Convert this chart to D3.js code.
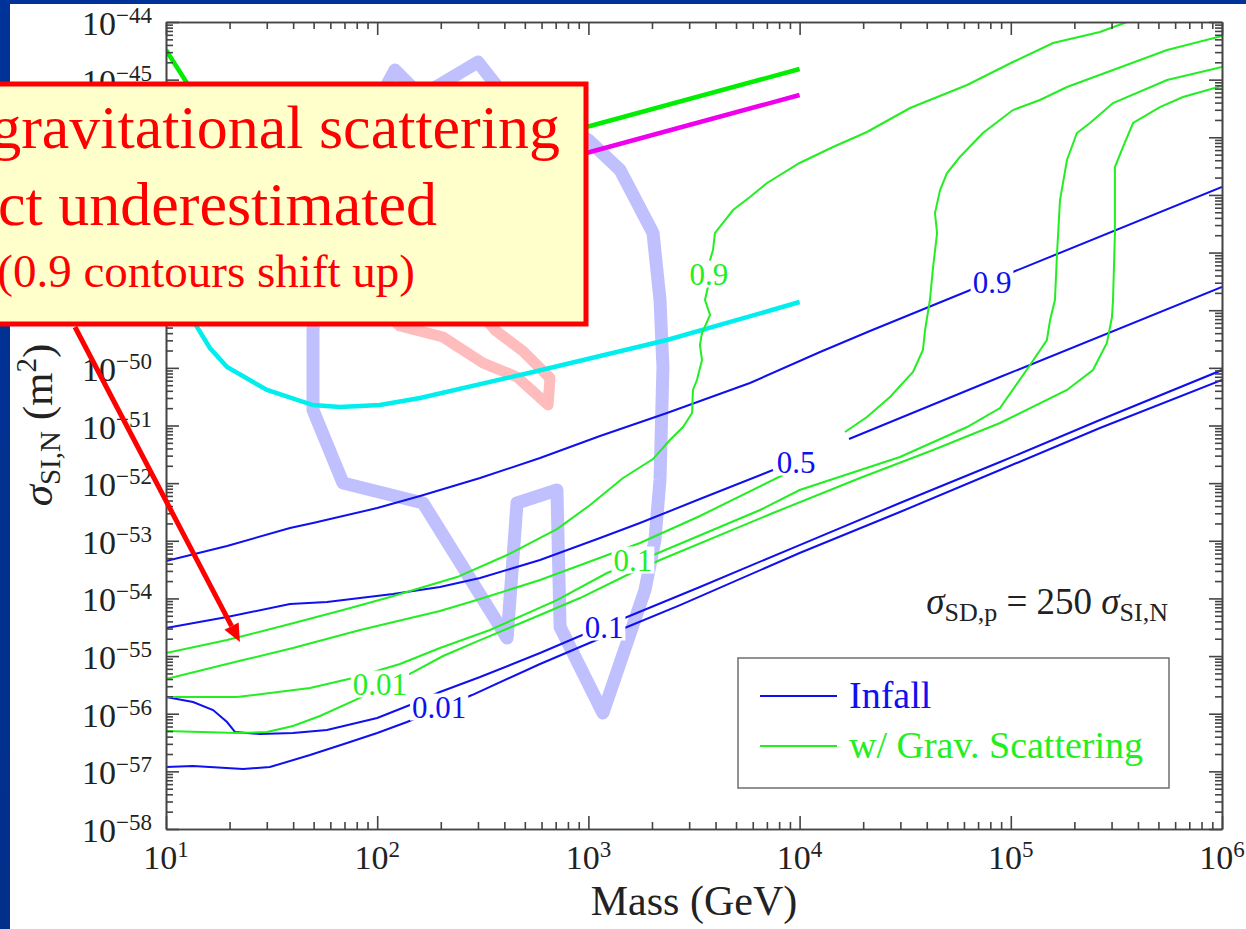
<!DOCTYPE html>
<html><head><meta charset="utf-8">
<script src="https://cdn.jsdelivr.net/npm/d3@7"></script>
<style>
html,body{margin:0;padding:0;background:#fff;overflow:hidden;}
svg{display:block;}
text{font-family:"Liberation Serif","Times New Roman",serif;}
</style></head><body>
<svg id="chart" width="1246" height="929"></svg>
<script>
// ---- values: [log10(Mass/GeV), log10(sigma/m^2)] ----
const massExponents  = [1, 2, 3, 4, 5, 6];
const sigmaExponents = [-44,-45,-46,-47,-48,-49,-50,-51,-52,-53,-54,-55,-56,-57,-58];

// Infall contours (blue)
const infall09 = [[1.000,-53.351],[1.289,-53.091],[1.587,-52.779],[1.696,-52.692],[2.000,-52.432],[2.203,-52.224],[2.487,-51.911],[2.771,-51.564],[3.055,-51.183],[3.372,-50.783],[3.765,-50.263],[4.097,-49.725],[4.333,-49.361],[4.797,-48.667],[5.010,-48.337],[6.000,-46.863]];
const infall05 = [[1.000,-54.514],[1.289,-54.323],[1.587,-54.097],[1.762,-54.062],[2.075,-53.924],[2.297,-53.802],[2.487,-53.646],[2.771,-53.334],[3.055,-52.952],[3.244,-52.692],[3.528,-52.276],[3.874,-51.772],null,[4.234,-51.235],[4.949,-50.159],[6.000,-48.598]];
const infall01 = [[1.000,-55.711],[1.128,-55.797],[1.223,-55.936],[1.289,-56.144],[1.327,-56.318],[1.445,-56.353],[1.601,-56.335],[1.762,-56.283],[2.000,-56.075],[2.155,-55.849],[2.297,-55.624],[2.487,-55.364],[2.771,-54.947],[2.960,-54.652],[3.183,-54.323],[3.528,-53.802],[4.000,-53.074],[4.475,-52.345],[4.949,-51.634],[5.422,-50.905],[6.000,-50.038]];
const infall001 = [[1.000,-56.925],[1.128,-56.908],[1.365,-56.960],[1.492,-56.925],[1.682,-56.717],[1.857,-56.509],[2.000,-56.335],[2.141,-56.144],[2.449,-55.676],[2.771,-55.138],[2.960,-54.843],[3.183,-54.496],[3.434,-54.115],[4.000,-53.212],[4.475,-52.501],[4.949,-51.772],[5.422,-51.044],[6.000,-50.211]];

// With gravitational scattering contours (green)
const scatter09 = [[1.000,-54.947],[1.289,-54.722],[1.587,-54.444],[1.838,-54.201],[2.061,-53.976],[2.378,-53.629],[2.615,-53.247],[2.851,-52.796],[3.008,-52.380],[3.164,-51.911],[3.306,-51.582],[3.386,-51.252],[3.448,-51.026],[3.491,-50.783],[3.495,-50.384],[3.514,-50.211],[3.538,-49.864],[3.528,-49.604],[3.538,-49.396],[3.576,-49.083],[3.552,-48.823],[3.566,-48.598],[3.576,-48.129],[3.590,-47.956],[3.599,-47.661],[3.685,-47.262],[3.765,-47.036],[3.846,-46.793],[4.000,-46.446],[4.158,-46.169],[4.319,-45.908],[4.523,-45.492],[4.793,-45.093],[5.010,-44.694],[5.200,-44.364],[5.422,-44.173],[5.550,-44.000]];
const scatter05 = [[1.000,-55.398],[1.365,-55.069],[1.601,-54.861],[1.919,-54.548],[2.297,-54.219],[2.487,-54.010],[2.771,-53.681],[3.244,-53.039],[3.528,-52.570],[3.921,-51.859],null,[4.215,-51.113],[4.319,-50.853],[4.428,-50.506],[4.537,-50.072],[4.584,-49.690],[4.594,-49.344],[4.617,-48.823],[4.632,-48.251],[4.651,-47.661],[4.641,-47.314],[4.665,-46.915],[4.698,-46.620],[4.759,-46.342],[4.868,-45.926],[5.010,-45.527],[5.138,-45.353],[5.266,-45.128],[5.484,-44.833],[5.740,-44.486],[6.000,-44.243]];
const scatter01 = [[1.000,-55.711],[1.336,-55.711],[1.682,-55.554],[1.885,-55.381],[2.108,-55.138],[2.297,-54.861],[2.534,-54.548],[2.851,-54.028],[3.088,-53.559],[3.330,-53.212],[3.813,-52.466],[4.000,-52.119],[4.475,-51.547],[4.793,-51.026],[4.949,-50.697],[5.091,-49.951],[5.171,-49.517],[5.186,-49.170],[5.209,-48.823],[5.219,-48.008],[5.233,-47.088],[5.266,-46.394],[5.313,-45.926],[5.375,-45.752],[5.484,-45.405],[5.740,-45.006],[6.000,-44.781]];
const scatter001 = [[1.000,-56.301],[1.336,-56.335],[1.478,-56.318],[1.601,-56.214],[1.729,-56.040],[1.895,-55.763],[2.037,-55.520],[2.170,-55.277],[2.312,-54.999],[2.487,-54.722],[2.771,-54.288],[2.960,-53.993],[3.183,-53.594],[3.339,-53.334],[3.874,-52.518],[4.286,-51.911],[4.632,-51.425],[4.949,-50.957],[5.266,-50.384],[5.389,-50.038],[5.455,-49.569],[5.479,-49.118],[5.484,-48.823],[5.493,-47.661],[5.493,-46.516],[5.531,-46.169],[5.579,-45.752],[5.706,-45.475],[5.815,-45.301],[6.000,-45.110]];

// contour labels: [text, log10 mass, log10 sigma]
const infallLabels  = [["0.9",4.911,-48.511],["0.5",3.983,-51.634],["0.1",3.074,-54.496],["0.01",2.293,-55.884]];
const scatterLabels = [["0.9",3.571,-48.372],["0.1",3.211,-53.334],["0.01",2.013,-55.485]];

// other experimental limits / regions
const limitGreen   = [[1.000,-44.486],[1.066,-44.867],[1.114,-45.145],[1.256,-45.874],[1.634,-46.741],[2.345,-46.481],[2.899,-45.908],[3.008,-45.804],[4.000,-44.815]];
const limitMagenta = [[2.899,-46.359],[3.008,-46.255],[4.000,-45.266]];
const limitCyan    = [[1.043,-48.476],[1.114,-49.135],[1.147,-49.291],[1.208,-49.656],[1.289,-49.985],[1.478,-50.384],[1.696,-50.645],[1.824,-50.679],[2.013,-50.645],[2.203,-50.523],[2.738,-50.072],[3.372,-49.517],[4.000,-48.858]];
const regionBlue   = [[1.696,-50.731],[1.696,-49.344],[1.753,-47.088],[2.084,-44.833],[2.206,-45.285],[2.477,-44.694],[2.581,-45.180],[2.866,-45.787],[3.000,-46.047],[3.150,-46.568],[3.306,-47.661],[3.339,-48.823],[3.353,-49.985],[3.339,-51.946],[3.315,-52.987],[3.268,-53.854],[3.069,-55.988],[2.866,-54.496],[2.851,-52.119],[2.662,-52.345],[2.615,-54.687],[2.217,-52.345],[1.838,-51.998]];
const regionRed    = [[1.966,-48.823],[2.108,-49.274],[2.312,-49.465],[2.501,-49.916],[2.662,-50.159],[2.809,-50.645],[2.818,-50.176],[2.690,-49.708],[2.558,-49.344],[2.439,-48.823]];

// annotation arrow (data coordinates): from -> to
const arrowFrom = [0.569,-49.291];
const arrowTo   = [1.350,-54.757];

// ---- drawing ----
const svg = d3.select("#chart");
const W = 1246, H = 929;
const plot = {x0:166, x1:1222, y0:22, y1:829};
const x = d3.scaleLog().domain([1e1,1e6]).range([plot.x0, plot.x1]);
const y = d3.scaleLog().domain([1e-58,1e-44]).range([plot.y1, plot.y0]);
const px = d => x(Math.pow(10,d[0]));
const py = d => y(Math.pow(10,d[1]));

const BLUE = "#1010ee", GREEN = "#22ee22";

svg.append("rect").attr("width",W).attr("height",H).attr("fill","#fff");
const defs = svg.append("defs");
const grad = defs.append("linearGradient").attr("id","side").attr("x1",0).attr("y1",0).attr("x2",0).attr("y2",1);
grad.append("stop").attr("offset",0).attr("stop-color","#003399");
grad.append("stop").attr("offset",1).attr("stop-color","#00308a");
svg.append("rect").attr("x",0).attr("y",0).attr("width",W).attr("height",4).attr("fill","#003399");
svg.append("rect").attr("x",0).attr("y",0).attr("width",10).attr("height",H).attr("fill","url(#side)");

defs.append("clipPath").attr("id","plotclip").append("rect")
  .attr("x",plot.x0).attr("y",plot.y0).attr("width",plot.x1-plot.x0).attr("height",plot.y1-plot.y0);

const gData = svg.append("g").attr("clip-path","url(#plotclip)");
const line = d3.line().defined(d=>d!=null).x(px).y(py);
const closed = d3.line().x(px).y(py).curve(d3.curveLinearClosed);

gData.append("path").attr("d",closed(regionBlue)).attr("fill","none").attr("stroke","#c0c0ff")
  .attr("stroke-width",13).attr("stroke-linejoin","round");
gData.append("path").attr("d",closed(regionRed)).attr("fill","none").attr("stroke","#ffbcbc")
  .attr("stroke-width",11).attr("stroke-linejoin","round");

[[limitCyan,"#00eeee"],[limitGreen,"#00ee00"],[limitMagenta,"#ee00ee"]].forEach(([d,c])=>{
  gData.append("path").attr("d",line(d)).attr("fill","none").attr("stroke",c).attr("stroke-width",4.5);
});

[infall09,infall05,infall01,infall001].forEach(d=>{
  gData.append("path").attr("d",line(d)).attr("fill","none").attr("stroke",BLUE).attr("stroke-width",2);
});
[scatter09,scatter05,scatter01,scatter001].forEach(d=>{
  gData.append("path").attr("d",line(d)).attr("fill","none").attr("stroke",GREEN).attr("stroke-width",2);
});

function contourLabel(lbl,color){
  const g = gData.append("g");
  const t = g.append("text").attr("x",px([lbl[1],lbl[2]])).attr("y",py([lbl[1],lbl[2]]))
    .attr("text-anchor","middle").attr("dominant-baseline","central")
    .attr("font-size",31).attr("fill",color).text(lbl[0]);
  const b = t.node().getBBox();
  g.insert("rect","text").attr("x",b.x-2).attr("y",b.y+4).attr("width",b.width+4).attr("height",b.height-8).attr("fill","#fff");
}
infallLabels.forEach(l=>contourLabel(l,BLUE));
scatterLabels.forEach(l=>contourLabel(l,GREEN));

// ---- axes ----
const AX = "#444";
const majorX = massExponents.map(e=>Math.pow(10,e));
const minorX = []; massExponents.slice(0,-1).forEach(e=>{for(let m=2;m<=9;m++) minorX.push(m*Math.pow(10,e));});
const majorY = sigmaExponents.map(e=>Math.pow(10,e));
const minorY = []; sigmaExponents.slice(1).forEach(e=>{for(let m=2;m<=9;m++) minorY.push(m*Math.pow(10,e));});

function styleAxis(g){ g.selectAll("path,line").attr("stroke",AX).attr("stroke-width",1.6); g.selectAll("text").remove(); }
const axes = [
  [d3.axisBottom(x), `translate(0,${plot.y1})`, majorX, minorX],
  [d3.axisTop(x), `translate(0,${plot.y0})`, majorX, minorX],
  [d3.axisLeft(y), `translate(${plot.x0},0)`, majorY, minorY],
  [d3.axisRight(y), `translate(${plot.x1},0)`, majorY, minorY]
];
axes.forEach(([ax,tr,maj,min])=>{
  svg.append("g").attr("transform",tr).call(ax.tickValues(min).tickSize(-7).tickSizeOuter(0).tickFormat("")).call(styleAxis);
  svg.append("g").attr("transform",tr).call(ax.tickValues(maj).tickSize(-13).tickSizeOuter(0).tickFormat("")).call(styleAxis);
});

// tick labels
massExponents.forEach(e=>{
  const t = svg.append("text").attr("x",x(Math.pow(10,e))).attr("y",plot.y1+40).attr("text-anchor","middle")
    .attr("font-size",34).attr("fill","#222");
  t.append("tspan").text("10");
  t.append("tspan").attr("dy",-12).attr("font-size",23).text(String(e));
});
sigmaExponents.forEach(e=>{
  const t = svg.append("text").attr("x",152).attr("y",y(Math.pow(10,e))+13).attr("text-anchor","end")
    .attr("font-size",34).attr("fill","#222");
  t.append("tspan").text("10");
  t.append("tspan").attr("dy",-12).attr("font-size",23).text("\u2212"+Math.abs(e));
});

// axis titles
svg.append("text").attr("x",(plot.x0+plot.x1)/2).attr("y",915).attr("text-anchor","middle")
  .attr("font-size",42).attr("fill","#222").text("Mass (GeV)");
const yt = svg.append("text").attr("transform","translate(52,425) rotate(-90)").attr("text-anchor","middle")
  .attr("font-size",43).attr("fill","#222");
yt.append("tspan").attr("font-style","italic").text("\u03C3");
yt.append("tspan").attr("font-size",29).attr("dy",8).text("SI,N");
yt.append("tspan").attr("dy",-8).text(" (m");
yt.append("tspan").attr("font-size",29).attr("dy",-16).text("2");
yt.append("tspan").attr("dy",16).text(")");

// sigma relation note
const note = svg.append("text").attr("x",1168).attr("y",614).attr("text-anchor","end").attr("font-size",37).attr("fill","#222");
note.append("tspan").attr("font-style","italic").text("\u03C3");
note.append("tspan").attr("font-size",26).attr("dy",7).text("SD,p");
note.append("tspan").attr("dy",-7).text(" = 250 ");
note.append("tspan").attr("font-style","italic").text("\u03C3");
note.append("tspan").attr("font-size",26).attr("dy",7).text("SI,N");

// legend
const lg = svg.append("g");
lg.append("rect").attr("x",738).attr("y",658).attr("width",431).attr("height",130).attr("fill","#fff").attr("stroke","#777").attr("stroke-width",1.6);
const legendItems = [["Infall",BLUE,696],["w/ Grav. Scattering",GREEN,746]];
legendItems.forEach(([name,c,yy])=>{
  lg.append("line").attr("x1",760).attr("x2",837).attr("y1",yy).attr("y2",yy).attr("stroke",c).attr("stroke-width",2);
  lg.append("text").attr("x",849).attr("y",yy+12).attr("font-size",38).attr("fill",c).text(name);
});

// annotation box
svg.append("rect").attr("x",-20).attr("y",84).attr("width",606).attr("height",240)
  .attr("fill","#ffffcc").attr("stroke","#ff0000").attr("stroke-width",5);
const ann = [["gravitational scattering",560,148,62],["ct underestimated",437,225,62],["(0.9 contours shift up)",415,287,47]];
ann.forEach(([t,xe,yb,fs])=>{
  svg.append("text").attr("x",xe).attr("y",yb).attr("text-anchor","end").attr("font-size",fs).attr("fill","#ff0000").text(t);
});

// arrow
const ax0 = px(arrowFrom), ay0 = py(arrowFrom), ax1 = px(arrowTo), ay1 = py(arrowTo);
const ang = Math.atan2(ay1-ay0, ax1-ax0), hl = 18, hw = 8;
const bx = ax1 - hl*Math.cos(ang), by = ay1 - hl*Math.sin(ang);
svg.append("line").attr("x1",ax0).attr("y1",ay0).attr("x2",bx).attr("y2",by).attr("stroke","#ff0000").attr("stroke-width",5);
svg.append("path").attr("d",`M${ax1},${ay1}L${bx+hw*Math.sin(ang)},${by-hw*Math.cos(ang)}L${bx-hw*Math.sin(ang)},${by+hw*Math.cos(ang)}Z`).attr("fill","#ff0000");
</script>
</body></html>
